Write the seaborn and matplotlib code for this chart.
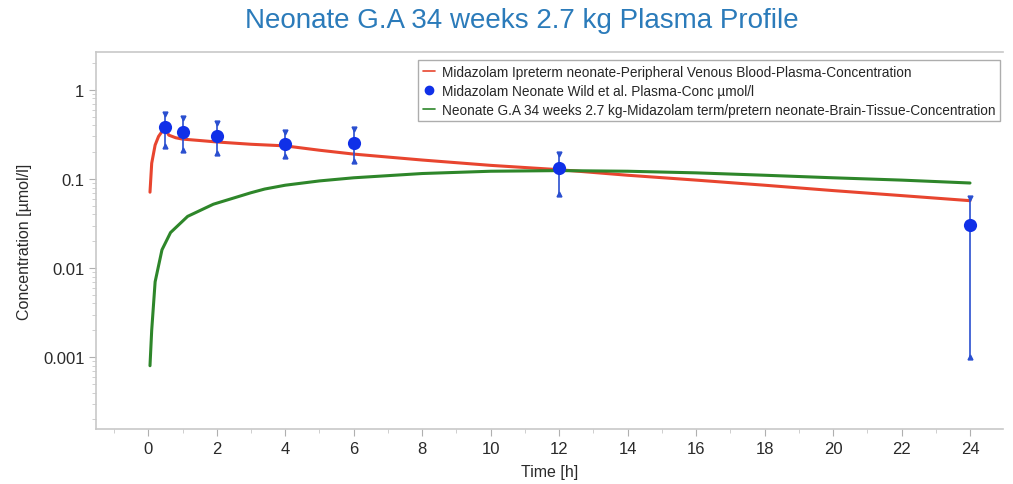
import numpy as np
import matplotlib
matplotlib.use("Agg")
import matplotlib.pyplot as plt
import matplotlib.ticker as mticker
from matplotlib.lines import Line2D
import pandas as pd
import seaborn as sns

# simulated plasma concentration (red)
plasma_t = [0.05, 0.1, 0.2, 0.3, 0.4, 0.5, 0.6, 0.8, 1.0, 1.5, 2.0, 3.0, 4.0, 5.0, 6.0,
            8.0, 10.0, 12.0, 14.0, 16.0, 18.0, 20.0, 22.0, 24.0]
plasma_c = [0.071, 0.15, 0.24, 0.30, 0.34, 0.36, 0.31, 0.29, 0.28, 0.27, 0.26, 0.245, 0.235,
            0.21, 0.19, 0.163, 0.142, 0.127, 0.11, 0.097, 0.085, 0.074, 0.065, 0.057]

# simulated brain tissue concentration (green)
brain_t = [0.05, 0.1, 0.2, 0.4, 0.65, 1.15, 1.9, 3.0, 3.4, 4.0, 5.0, 6.0, 8.0, 10.0, 12.0,
           14.0, 16.0, 18.0, 20.0, 22.0, 24.0]
brain_c = [0.0008, 0.002, 0.007, 0.016, 0.025, 0.038, 0.052, 0.07, 0.077, 0.085, 0.095, 0.103,
           0.115, 0.122, 0.124, 0.122, 0.117, 0.11, 0.103, 0.097, 0.09]

# observed data (blue) with error bar ends
obs_t = [0.5, 1, 2, 4, 6, 12, 24]
obs_c = [0.384, 0.337, 0.305, 0.247, 0.254, 0.133, 0.0304]
obs_hi = [0.537, 0.485, 0.426, 0.337, 0.365, 0.191, 0.061]
obs_lo = [0.235, 0.211, 0.196, 0.181, 0.159, 0.068, 0.001]

x_ticks = list(range(0, 25, 2))
y_ticks = [0.001, 0.01, 0.1, 1]
y_labels = ["0.001", "0.01", "0.1", "1"]

lbl_plasma = "Midazolam Ipreterm neonate-Peripheral Venous Blood-Plasma-Concentration"
lbl_obs = "Midazolam Neonate Wild et al. Plasma-Conc µmol/l"
lbl_brain = "Neonate G.A 34 weeks 2.7 kg-Midazolam term/pretern neonate-Brain-Tissue-Concentration"

red = "#e8452f"
green = "#2e862a"
blue = "#1030e8"
ebar = "#2a4fd0"

sns.set_style("white")
plt.rcParams["font.family"] = ["Liberation Sans", "DejaVu Sans"]

fig = plt.figure(figsize=(10.13, 4.85), dpi=100)
ax = fig.add_axes([0.095, 0.113, 0.895, 0.778])

df_p = pd.DataFrame({"t": plasma_t, "c": plasma_c})
df_b = pd.DataFrame({"t": brain_t, "c": brain_c})

sns.lineplot(data=df_p, x="t", y="c", ax=ax, color=red, lw=2.2, legend=False)
sns.lineplot(data=df_b, x="t", y="c", ax=ax, color=green, lw=2.2, legend=False)

obs_t = np.array(obs_t)
obs_c = np.array(obs_c)
yerr = [obs_c - np.array(obs_lo), np.array(obs_hi) - obs_c]
ax.errorbar(obs_t, obs_c, yerr=yerr, fmt="none", ecolor=ebar, elinewidth=1.2, capsize=0, zorder=4)
ax.plot(obs_t, obs_hi, "v", color=ebar, ms=3.5, zorder=4)
ax.plot(obs_t, obs_lo, "^", color=ebar, ms=3.5, zorder=4)
sns.scatterplot(x=obs_t, y=obs_c, ax=ax, color=blue, s=90, edgecolor=blue, linewidth=0, zorder=5)

ax.set_yscale("log")
ax.set_ylim(1.55e-4, 2.67)
ax.set_xlim(-1.52, 24.96)
ax.set_xticks(x_ticks)
ax.xaxis.set_minor_locator(mticker.MultipleLocator(1))
ax.set_yticks(y_ticks)
ax.set_yticklabels(y_labels)
ax.yaxis.set_minor_locator(mticker.LogLocator(base=10, subs=np.arange(2, 10)))
ax.yaxis.set_minor_formatter(mticker.NullFormatter())

ax.tick_params(axis="both", which="major", direction="out", length=5, color="#b0b0b0",
               labelsize=12, labelcolor="#2a2a2a", left=True, bottom=True)
ax.tick_params(axis="both", which="minor", direction="out", length=3, color="#c8c8c8",
               left=True, bottom=True)

for side in ["left", "bottom", "top"]:
    ax.spines[side].set_color("#c8c8c8")
    ax.spines[side].set_linewidth(1.2)
ax.spines["right"].set_visible(False)

ax.set_xlabel("Time [h]", fontsize=11.5, color="#2a2a2a", labelpad=6)
ax.set_ylabel("Concentration [µmol/l]", fontsize=11.5, color="#2a2a2a", labelpad=8)

fig.text(0.515, 0.957, "Neonate G.A 34 weeks 2.7 kg Plasma Profile", fontsize=20,
         color="#2b7bba", ha="center", va="center")

handles = [
    Line2D([], [], color=red, lw=1.2),
    Line2D([], [], color=blue, marker="o", ms=6, ls="none"),
    Line2D([], [], color=green, lw=1.2),
]
leg = ax.legend(handles, [lbl_plasma, lbl_obs, lbl_brain], loc="upper right",
                bbox_to_anchor=(1.0, 0.985), fontsize=9.8, frameon=True, fancybox=False,
                handlelength=0.9, handletextpad=0.5, borderpad=0.35, labelspacing=0.35,
                borderaxespad=0.2)
leg.get_frame().set_edgecolor("#999999")
leg.get_frame().set_linewidth(1.0)

fig.savefig("out.png", dpi=100)
